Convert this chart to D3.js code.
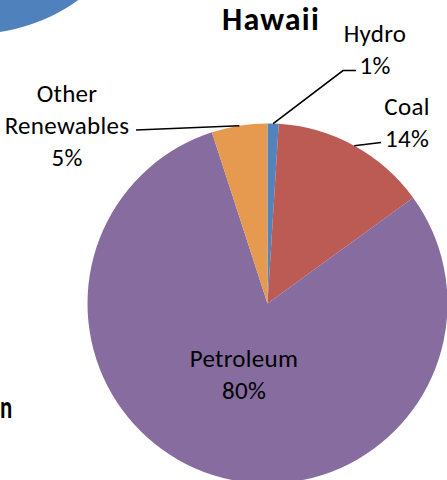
<!DOCTYPE html>
<html>
<head>
<meta charset="utf-8">
<script src="https://cdn.jsdelivr.net/npm/d3@7"></script>
<style>
  html, body { margin: 0; padding: 0; background: #fff; overflow: hidden; }
  svg { display: block; }
  text { font-family: Calibri, Carlito, Lato, sans-serif; fill: #000; }
</style>
</head>
<body>
<svg id="chart" width="447" height="480"></svg>
<script>
// Hawaii electricity generation by source (share of total, %)
const categories = ["Hydro", "Coal", "Petroleum", "Other Renewables"];
const shares = [1, 14, 80, 5];
const sliceColors = ["#5283bd", "#bb5b53", "#876ca0", "#e59a4f"];
const labelLines = [["Hydro"], ["Coal"], ["Petroleum"], ["Other", "Renewables"]];

const W = 447, H = 480;
const cx = 267.5, cy = 303.5, R = 180;
const svg = d3.select("#chart");

// neighbouring chart's pie, mostly off the top-left edge
svg.append("circle")
  .attr("cx", -27).attr("cy", -146).attr("r", 180)
  .attr("fill", "#4f81bd");

// neighbouring chart's title, cut off at the left edge
svg.append("text")
  .attr("x", 0).attr("y", 418)
  .attr("text-anchor", "start")
  .style("font-size", "24px").style("font-weight", "bold")
  .attr("transform", "translate(0,418) scale(0.95,1.35) translate(0,-418)")
  .text("n");

const data = categories.map((c, i) => ({ name: c, value: shares[i], color: sliceColors[i], lines: labelLines[i] }));

const pie = d3.pie().value(d => d.value).sort(null);
const arcs = pie(data);
const arc = d3.arc().innerRadius(0).outerRadius(R);

const g = svg.append("g").attr("transform", `translate(${cx},${cy})`);
g.selectAll("path.slice")
  .data(arcs)
  .join("path")
  .attr("class", "slice")
  .attr("d", arc)
  .attr("fill", d => d.data.color);

// title
svg.append("text")
  .attr("x", 271).attr("y", 30)
  .attr("text-anchor", "middle")
  .style("font-size", "32px").style("font-weight", "bold")
  .style("letter-spacing", "1.2px")
  .text("Hawaii");

// label placement: text centre x, first baseline y, leader route
const labelLayout = {
  "Hydro":            { x: 375, y: 42,  leader: [[343, 70.5], [356, 70.5]] },
  "Coal":             { x: 407, y: 115, leader: [[381, 142.5]] },
  "Petroleum":        { x: 244, y: 367, leader: null },
  "Other Renewables": { x: 67,  y: 102, leader: [[136, 130]] }
};
const lineGap = 32;

// point on the rim at the middle of a slice
function rimPoint(a) {
  const m = (a.startAngle + a.endAngle) / 2;
  return [cx + R * Math.sin(m), cy - R * Math.cos(m)];
}

arcs.forEach(a => {
  const L = labelLayout[a.data.name];
  if (L.leader) {
    const pts = [rimPoint(a), ...L.leader];
    svg.append("path")
      .attr("d", d3.line()(pts))
      .attr("fill", "none")
      .attr("stroke", "#000")
      .attr("stroke-width", 1.6);
  }
  const t = svg.append("text")
    .attr("text-anchor", "middle")
    .style("font-size", "25px")
    .style("letter-spacing", "0.3px");
  const lines = [...a.data.lines, d3.format("d")(a.data.value) + "%"];
  lines.forEach((s, i) => {
    t.append("tspan").attr("x", L.x).attr("y", L.y + i * lineGap).text(s);
  });
});
</script>
</body>
</html>
